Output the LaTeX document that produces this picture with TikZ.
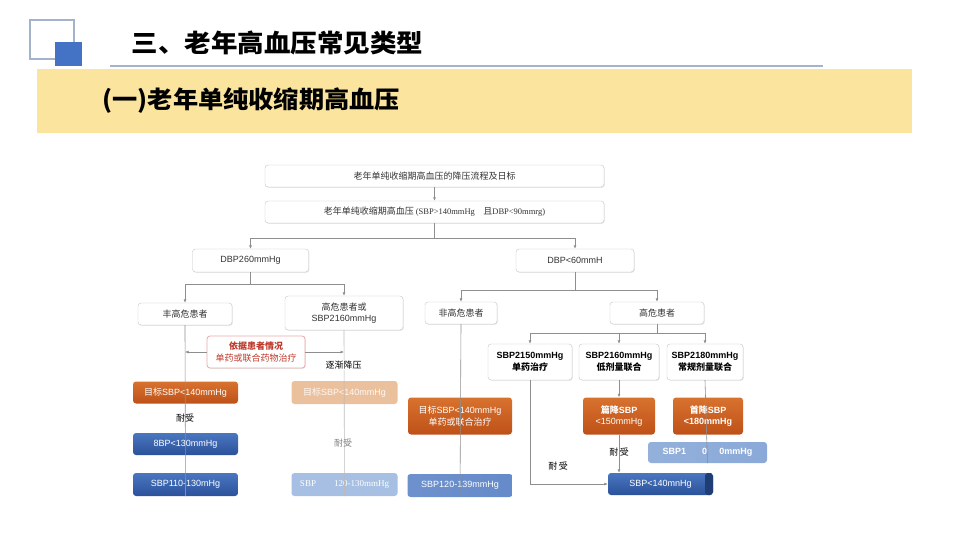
\documentclass[tikz,border=0pt]{standalone}
\usepackage{fontspec}
\setmainfont{Noto Sans CJK SC}
\newfontfamily\lat{Liberation Sans}
\newfontfamily\ser{Liberation Serif}
\usepackage{tikz}
\usetikzlibrary{positioning,shapes,arrows.meta,shadows,calc}
\definecolor{band}{HTML}{FBE49D}
\definecolor{deco}{HTML}{4472C4}
\definecolor{decoline}{HTML}{A3B3CB}
\definecolor{frame}{HTML}{C4C4C4}
\definecolor{wire}{HTML}{8E8E8E}
\definecolor{OrgTop}{HTML}{D8722F}
\definecolor{OrgBot}{HTML}{BE5118}
\definecolor{BluTop}{HTML}{4A76C0}
\definecolor{BluBot}{HTML}{2B529B}
\definecolor{Peach}{HTML}{EBC09C}
\definecolor{Mist}{HTML}{A6BFE2}
\definecolor{Hint}{HTML}{C0392B}
\definecolor{HintLine}{HTML}{EBA8A8}
\tikzstyle{wb}=[%
      rectangle, rounded corners=3pt, draw=frame, fill=white,
      drop shadow={shadow xshift=0.8pt, shadow yshift=-0.8pt, fill=black!18},
      inner sep=0pt, align=center, text=black!80, font=\fontsize{9}{11.5}\selectfont
]
\tikzstyle{ob}=[%
      rectangle, rounded corners=3pt, top color=OrgTop, bottom color=OrgBot,
      inner sep=0pt, align=center, text=white, font=\fontsize{9}{11.5}\selectfont
]
\tikzstyle{bb}=[%
      rectangle, rounded corners=3pt, top color=BluTop, bottom color=BluBot,
      inner sep=0pt, align=center, text=white, font=\fontsize{9}{11}\selectfont
]
\tikzstyle{fb}=[%
      rectangle, rounded corners=3pt, inner sep=0pt, align=center, text=white,
      font=\fontsize{9}{11}\selectfont
]
\tikzstyle{line}=[draw=wire, line width=0.6pt]
\tikzstyle{lbl}=[inner sep=1pt, font=\fontsize{9}{11}\selectfont]

\begin{document}
\begin{tikzpicture}[x=1pt, y=-1pt,
    >={Latex[length=3.5pt,width=3pt]}
  ]
    \useasboundingbox (0,0) rectangle (956,537);
    % header
    \draw[decoline, line width=1.6pt] (30,20) rectangle (74,59);
    \fill[deco] (55,42) rectangle (82,66);
    \node[anchor=west, font=\fontsize{25}{30}\selectfont\bfseries] (head) at (128,43)
        {\scalebox{1.06}[1]{三、老年高血压常见类型}};
    \draw[decoline, line width=2pt] (110,66) -- (823,66);
    \fill[band] (37,69) rectangle (912,133);
    \node[anchor=west, font=\fontsize{24}{30}\selectfont\bfseries] (sub) at (99,101)
        {\scalebox{1.05}[1]{(一)老年单纯收缩期高血压}};

    % flow boxes
    \node[wb, minimum width=339pt, minimum height=22pt] (aim) at (434.5,176) {老年单纯收缩期高血压的降压流程及日标};
    \node[wb, minimum width=339pt, minimum height=22pt] (isa) at (434.5,212)
        {老年单纯收缩期高血压 {\ser\fontsize{8.5}{10}\selectfont (SBP>140mmHg\quad}且{\ser\fontsize{8.5}{10}\selectfont DBP<90mmrg)}};
    \node[wb, minimum width=116pt, minimum height=23pt] (dbpH) at (250.5,260.5) {\lat DBP260mmHg};
    \node[wb, minimum width=118pt, minimum height=23pt] (dbpL) at (575,260.5) {\lat DBP<60mmH};
    \node[wb, minimum width=94pt, minimum height=22pt] (lowA) at (185,314) {丰高危患者};
    \node[wb, minimum width=118pt, minimum height=34pt] (highA) at (344,313) {高危患者或\\{\lat SBP2160mmHg}};
    \node[wb, minimum width=72pt, minimum height=22pt] (lowB) at (461,313) {非高危患者};
    \node[wb, minimum width=94pt, minimum height=22pt] (highB) at (657,313) {高危患者};
    \node[wb, draw=HintLine, line width=0.8pt, text=Hint, minimum width=98pt, minimum height=32pt] (hint) at (256,352)
        {\textbf{依据患者情况}\\单药或联合药物治疗};
    \node[wb, text=black, minimum width=84pt, minimum height=36pt] (s150) at (530,362) {\textbf{\lat SBP2150mmHg}\\\textbf{单药治疗}};
    \node[wb, text=black, minimum width=80pt, minimum height=36pt] (s160) at (619,362) {\textbf{\lat SBP2160mmHg}\\\textbf{低剂量联合}};
    \node[wb, text=black, minimum width=76pt, minimum height=36pt] (s180) at (705,362) {\textbf{\lat SBP2180mmHg}\\\textbf{常规剂量联合}};

    \node[ob, minimum width=105pt, minimum height=22pt] (goalA) at (185.5,392.5) {目标{\lat SBP<140mmHg}};
    \node[fb, fill=Peach, text=white!92!Peach, minimum width=106pt, minimum height=23pt] (goalB) at (344.5,392.5) {目标{\lat SBP<140mmHg}};
    \node[ob, minimum width=104pt, minimum height=37pt] (goalC) at (460,416) {目标{\lat SBP<140mmHg}\\单药或联合治疗};
    \node[ob, minimum width=72pt, minimum height=37pt] (drop150) at (619,416) {\textbf{篇降{\lat SBP}}\\{\lat <150mmHg}};
    \node[ob, minimum width=70pt, minimum height=37pt] (drop180) at (708,416) {\textbf{首降{\lat SBP}}\\\textbf{\lat <180mmHg}};

    \node[bb, minimum width=105pt, minimum height=22pt] (sA1) at (185.5,444) {\lat 8BP<130mmHg};
    \node[fb, left color=Mist!80!BluTop, middle color=white!70!Mist, right color=Mist!70!BluTop, minimum width=119pt, minimum height=21pt] (sE) at (707.5,452.5)
        {\lat\bfseries SBP1\hspace{16pt}0\hspace{12pt}0mmHg};
    \node[bb, minimum width=105pt, minimum height=23pt] (sA2) at (185.5,484.5) {\lat SBP110-130mHg};
    \node[fb, fill=Mist, minimum width=106pt, minimum height=23pt] (sB) at (344.5,484.5) {\ser SBP\hspace{18pt}120-130mmHg};
    \node[fb, left color=BluTop!80, middle color=white!55!Mist, right color=BluTop!85, minimum width=105pt, minimum height=23pt] (sC) at (460,485.5) {\lat SBP120-139mmHg};
    \node[bb, minimum width=105pt, minimum height=22pt,
        path picture={\fill[BluBot!75!black] ([xshift=-8pt]path picture bounding box.north east) rectangle (path picture bounding box.south east);}]
        (sD) at (660.5,484) {\lat SBP<140mnHg};

    % connectors
    \draw[->, line] (aim) -- (isa);
    \coordinate (jB) at (434.5,238);
    \draw[line] (isa) -- (jB);
    \draw[->, line] (jB) -| (dbpH);
    \draw[->, line] (jB) -| (dbpL);
    \coordinate (jC) at (250.5,284);
    \draw[line] (dbpH) -- (jC);
    \draw[->, line] (jC) -| (lowA);
    \draw[->, line] (jC) -| (highA);
    \coordinate (jD) at (575,290);
    \draw[line] (dbpL) -- (jD);
    \draw[->, line] (jD) -| (lowB);
    \draw[->, line] (jD) -| (highB);
    \coordinate (jH) at (657,333);
    \draw[line] (highB) -- (jH);
    \draw[->, line] (jH) -| (s150);
    \draw[->, line] (jH) -| (s160);
    \draw[->, line] (jH) -| (s180);

    \draw[line] (lowA.south) -- (sA2.south);
    \draw[line, draw=wire!60] (highA.south) -- (sB.south);
    \draw[line] (lowB.south) -- (sC.south);
    \draw[->, line] (s150) |- (sD);
    \draw[->, line] (s160) -- (drop150);
    \draw[->, line] (drop150.south) -- (drop150.south |- sD.north);
    \draw[line] (s180.south) -- (sE.south);
    \draw[->, line] (hint.west) -- (hint.west -| lowA);
    \draw[->, line] (hint.east) -- (hint.east -| highA);

    % labels
    \node[lbl, fill=white] (slow) at (343.5,365) {逐渐降压};
    \node[lbl] (tolA) at (185,418) {耐受};
    \node[lbl, text=black!50] (tolB) at (343,443) {耐受};
    \node[lbl] (tolC) at (558,466) {耐\,受};
    \node[lbl] (tolD) at (619,452) {耐\,受};
  \end{tikzpicture}
\end{document}
